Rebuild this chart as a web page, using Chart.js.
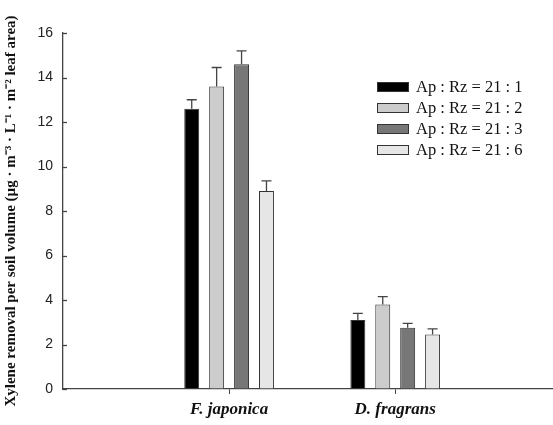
<!DOCTYPE html>
<html>
<head>
<meta charset="utf-8">
<script src="https://cdn.jsdelivr.net/npm/chart.js@4"></script>
<style>
  html, body { margin: 0; padding: 0; background: #fff; }
  #wrap { width: 553px; height: 425px; }
</style>
</head>
<body>
<div id="wrap"><canvas id="myChart"></canvas></div>
<script>
// categories and series
var categories = ['F. japonica', 'D. fragrans'];
var seriesLabels = ['Ap : Rz = 21 : 1', 'Ap : Rz = 21 : 2', 'Ap : Rz = 21 : 3', 'Ap : Rz = 21 : 6'];
var ratio1 = [12.6, 3.1];
var ratio2 = [13.6, 3.8];
var ratio3 = [14.6, 2.75];
var ratio6 = [8.9, 2.45];
var err1 = [0.4, 0.3];
var err2 = [0.85, 0.35];
var err3 = [0.6, 0.2];
var err6 = [0.45, 0.25];
var yTicks = [0, 2, 4, 6, 8, 10, 12, 14, 16];

var fills = ['#000000', '#cccccc', '#777777', '#e6e6e6'];
var values = [ratio1, ratio2, ratio3, ratio6];
var errors = [err1, err2, err3, err6];

function points(vals) {
    return vals.map(function (v, i) { return { x: i + 1, y: v }; });
}

// upward error bars, inside y ticks and the legend box
var extras = {
    id: 'extras',
    afterDatasetsDraw: function (chart) {
        var ctx = chart.ctx;
        var y = chart.scales.y;
        var area = chart.chartArea;
        ctx.save();
        ctx.strokeStyle = '#444';
        ctx.lineWidth = 1.3;
        chart.data.datasets.forEach(function (ds, d) {
            var meta = chart.getDatasetMeta(d);
            meta.data.forEach(function (bar, i) {
                var top = y.getPixelForValue(values[d][i]);
                var end = y.getPixelForValue(values[d][i] + errors[d][i]);
                ctx.beginPath();
                ctx.moveTo(bar.x, top);
                ctx.lineTo(bar.x, end);
                ctx.moveTo(bar.x - 5, end);
                ctx.lineTo(bar.x + 5, end);
                ctx.stroke();
            });
        });
        // y ticks pointing into the plot
        yTicks.forEach(function (t) {
            var py = Math.round(y.getPixelForValue(t)) + 0.5;
            ctx.beginPath();
            ctx.moveTo(area.left, py);
            ctx.lineTo(area.left + 4, py);
            ctx.stroke();
        });
        // legend
        ctx.font = '16.5px "Liberation Serif", "Times New Roman", serif';
        ctx.textBaseline = 'middle';
        seriesLabels.forEach(function (lab, k) {
            var cy = 87 + k * 21;
            ctx.fillStyle = fills[k];
            ctx.fillRect(377, cy - 5, 32, 10);
            ctx.lineWidth = 1;
            ctx.strokeStyle = '#333';
            ctx.strokeRect(377.5, cy - 4.5, 31, 9);
            ctx.fillStyle = '#111';
            ctx.fillText(lab, 416, cy + 1);
        });
        ctx.restore();
    }
};

var ctx = document.getElementById('myChart').getContext('2d');
var chart = new Chart(ctx, {
    type: 'bar',
    data: {
        datasets: seriesLabels.map(function (lab, k) {
            return {
                label: lab,
                data: points(values[k]),
                backgroundColor: fills[k],
                borderColor: '#333',
                borderWidth: 1,
                categoryPercentage: 0.6,
                barPercentage: 0.6
            };
        })
    },
    options: {
        responsive: true,
        maintainAspectRatio: false,
        animation: false,
        layout: { padding: { top: 33, right: 0, left: 0, bottom: 0 } },
        plugins: { legend: { display: false }, tooltip: { enabled: false } },
        scales: {
            x: {
                type: 'linear',
                offset: false,
                min: 0,
                max: 2.95,
                afterFit: function (s) { s.height = 36; },
                border: { color: '#444', width: 1.3 },
                grid: {
                    offset: false,
                    drawOnChartArea: false,
                    tickLength: 5,
                    color: function (c) { return (c.tick && (c.tick.value === 1 || c.tick.value === 2)) ? '#444' : 'rgba(0,0,0,0)'; }
                },
                ticks: {
                    stepSize: 1,
                    includeBounds: false,
                    autoSkip: false,
                    maxRotation: 0,
                    padding: 5,
                    color: '#111',
                    font: { family: '"Liberation Serif", "Times New Roman", serif', size: 17, weight: 'bold', style: 'italic' },
                    callback: function (v) { return categories[v - 1] || ''; }
                }
            },
            y: {
                min: 0,
                max: 16,
                afterFit: function (s) { s.width = 63; },
                border: { color: '#444', width: 1.3 },
                grid: { drawOnChartArea: false, drawTicks: false },
                ticks: {
                    stepSize: 2,
                    padding: 10,
                    color: '#222',
                    font: { family: '"Liberation Sans", Arial, sans-serif', size: 14 }
                },
                title: {
                    display: true,
                    text: 'Xylene removal per soil volume (\u00b5g \u00b7 m\u207b\u00b3 \u00b7 L\u207b\u00b9 \u00b7 m\u207b\u00b2 leaf area)',
                    color: '#111',
                    padding: { top: 2, bottom: 2 },
                    font: { family: '"Liberation Serif", "Times New Roman", serif', size: 15, weight: 'bold' }
                }
            }
        }
    },
    plugins: [extras]
});
</script>
</body>
</html>
